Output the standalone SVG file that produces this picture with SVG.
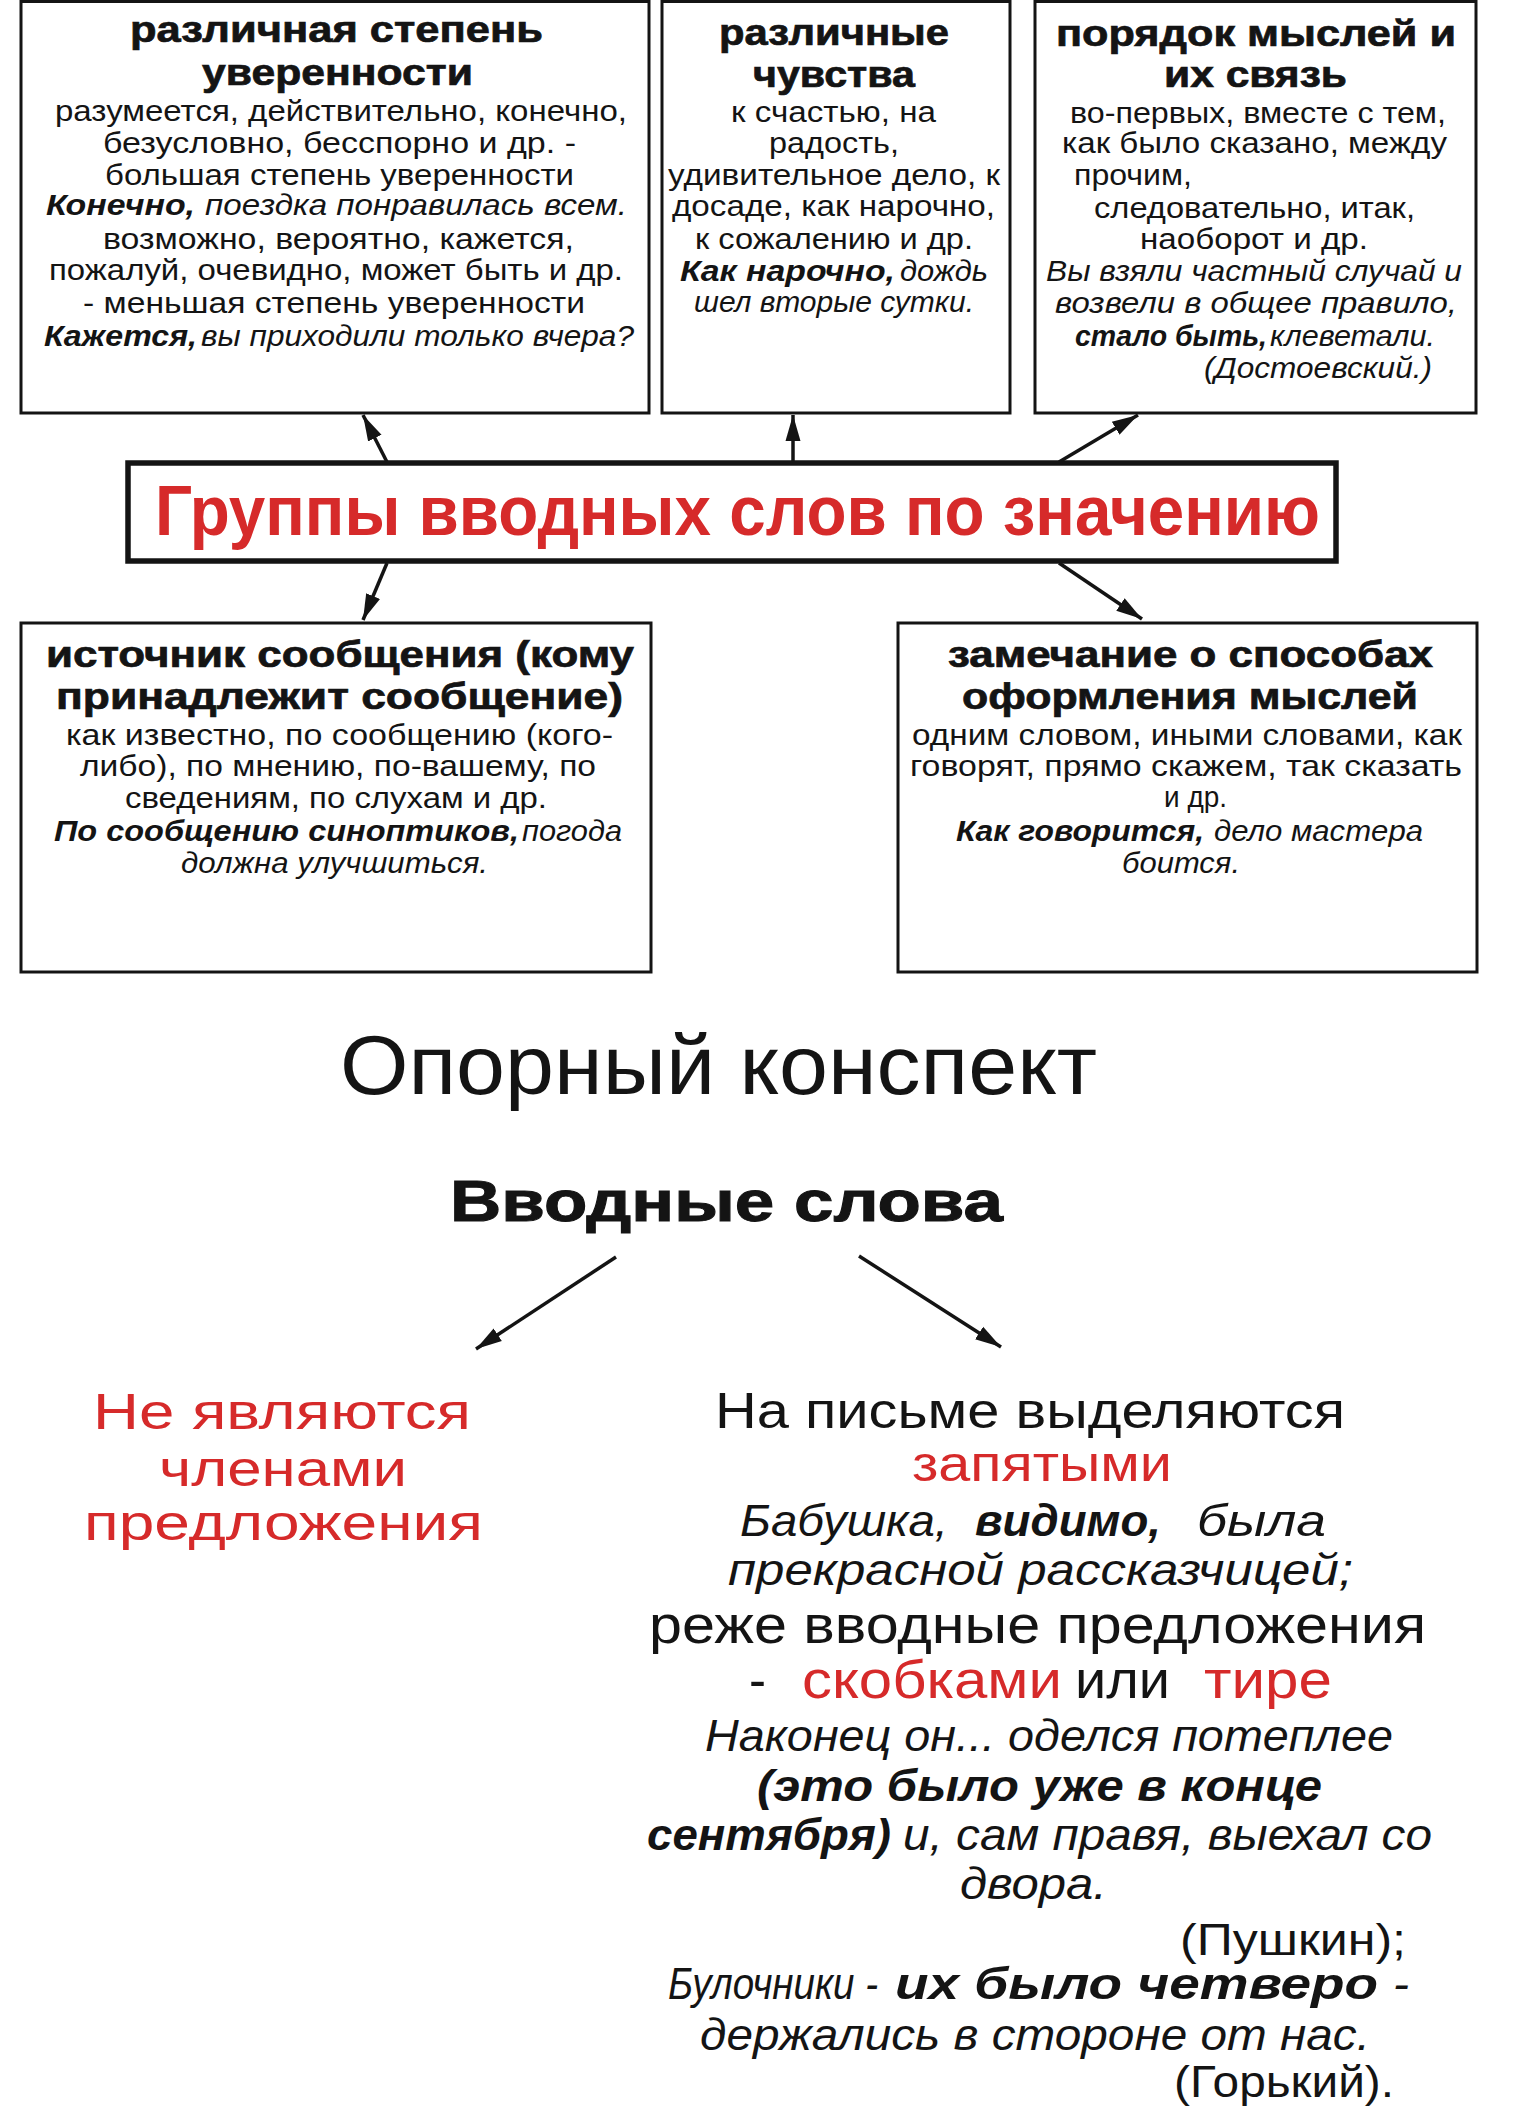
<svg xmlns="http://www.w3.org/2000/svg" width="1516" height="2114" viewBox="0 0 1516 2114">
<defs>
<style>
text{font-family:"Liberation Sans",Arial,sans-serif;fill:#141414}
.t{font-weight:bold;font-size:36px;stroke:#141414;stroke-width:0.7}
.s{font-size:30px}
.i{font-style:italic}
.bi{font-weight:bold;font-style:italic}
.box{fill:#fff;stroke:#141414;stroke-width:3}
.red{fill:#d62a2a}
.ln{stroke:#141414;stroke-width:3.5;fill:none}
.e{font-size:45px}
</style>
<marker id="ah" markerUnits="userSpaceOnUse" markerWidth="30" markerHeight="20" refX="26" refY="10" orient="auto">
<path d="M0,2.5 L26,10 L0,17.5 z" fill="#141414"/>
</marker>
</defs>
<rect width="1516" height="2114" fill="#fff"/>

<g id="connectors">
<line class="ln" x1="387" y1="462" x2="363" y2="415" marker-end="url(#ah)"/>
<line class="ln" x1="793" y1="462" x2="793" y2="415" marker-end="url(#ah)"/>
<line class="ln" x1="1059" y1="462" x2="1138" y2="415" marker-end="url(#ah)"/>
<line class="ln" x1="387" y1="563" x2="363" y2="620" marker-end="url(#ah)"/>
<line class="ln" x1="1059" y1="563" x2="1142" y2="619" marker-end="url(#ah)"/>
<line class="ln" x1="616" y1="1257" x2="476" y2="1349" marker-end="url(#ah)"/>
<line class="ln" x1="859" y1="1256" x2="1001" y2="1347" marker-end="url(#ah)"/>
</g>

<g id="box-uverennost">
<rect class="box" x="21" y="1.5" width="628" height="411.5"/>
<text class="t" x="130" y="42" textLength="413" lengthAdjust="spacingAndGlyphs">различная степень</text>
<text class="t" x="202" y="85" textLength="271" lengthAdjust="spacingAndGlyphs">уверенности</text>
<text class="s" x="55" y="121" textLength="572" lengthAdjust="spacingAndGlyphs">разумеется, действительно, конечно,</text>
<text class="s" x="103" y="153" textLength="473" lengthAdjust="spacingAndGlyphs">безусловно, бесспорно и др. -</text>
<text class="s" x="105" y="185" textLength="469" lengthAdjust="spacingAndGlyphs">большая степень уверенности</text>
<text class="s bi" x="46" y="215" textLength="149" lengthAdjust="spacingAndGlyphs">Конечно,</text>
<text class="s i" x="205" y="215" textLength="422" lengthAdjust="spacingAndGlyphs">поездка понравилась всем.</text>
<text class="s" x="103" y="249" textLength="471" lengthAdjust="spacingAndGlyphs">возможно, вероятно, кажется,</text>
<text class="s" x="49" y="280" textLength="574" lengthAdjust="spacingAndGlyphs">пожалуй, очевидно, может быть и др.</text>
<text class="s" x="83" y="313" textLength="502" lengthAdjust="spacingAndGlyphs">- меньшая степень уверенности</text>
<text class="s bi" x="44" y="346" textLength="153" lengthAdjust="spacingAndGlyphs">Кажется,</text>
<text class="s i" x="201" y="346" textLength="433" lengthAdjust="spacingAndGlyphs">вы приходили только вчера?</text>
</g>

<g id="box-chuvstva">
<rect class="box" x="662" y="1.5" width="348" height="411.5"/>
<text class="t" x="719" y="45" textLength="230" lengthAdjust="spacingAndGlyphs">различные</text>
<text class="t" x="753" y="87" textLength="162" lengthAdjust="spacingAndGlyphs">чувства</text>
<text class="s" x="731" y="122" textLength="205" lengthAdjust="spacingAndGlyphs">к счастью, на</text>
<text class="s" x="769" y="153" textLength="130" lengthAdjust="spacingAndGlyphs">радость,</text>
<text class="s" x="668" y="185" textLength="332" lengthAdjust="spacingAndGlyphs">удивительное дело, к</text>
<text class="s" x="672" y="216" textLength="323" lengthAdjust="spacingAndGlyphs">досаде, как нарочно,</text>
<text class="s" x="695" y="249" textLength="278" lengthAdjust="spacingAndGlyphs">к сожалению и др.</text>
<text class="s bi" x="680" y="281" textLength="215" lengthAdjust="spacingAndGlyphs">Как нарочно,</text>
<text class="s i" x="900" y="281" textLength="88" lengthAdjust="spacingAndGlyphs">дождь</text>
<text class="s i" x="694" y="312" textLength="280" lengthAdjust="spacingAndGlyphs">шел вторые сутки.</text>
</g>

<g id="box-poryadok">
<rect class="box" x="1035" y="1.5" width="441" height="411.5"/>
<text class="t" x="1056" y="46" textLength="400" lengthAdjust="spacingAndGlyphs">порядок мыслей и</text>
<text class="t" x="1164" y="87" textLength="183" lengthAdjust="spacingAndGlyphs">их связь</text>
<text class="s" x="1070" y="123" textLength="376" lengthAdjust="spacingAndGlyphs">во-первых, вместе с тем,</text>
<text class="s" x="1062" y="153" textLength="385" lengthAdjust="spacingAndGlyphs">как было сказано, между</text>
<text class="s" x="1074" y="185" textLength="118" lengthAdjust="spacingAndGlyphs">прочим,</text>
<text class="s" x="1094" y="218" textLength="321" lengthAdjust="spacingAndGlyphs">следовательно, итак,</text>
<text class="s" x="1140" y="249" textLength="228" lengthAdjust="spacingAndGlyphs">наоборот и др.</text>
<text class="s i" x="1046" y="281" textLength="416" lengthAdjust="spacingAndGlyphs">Вы взяли частный случай и</text>
<text class="s i" x="1055" y="313" textLength="402" lengthAdjust="spacingAndGlyphs">возвели в общее правило,</text>
<text class="s bi" x="1075" y="346" textLength="192" lengthAdjust="spacingAndGlyphs">стало быть,</text>
<text class="s i" x="1270" y="346" textLength="165" lengthAdjust="spacingAndGlyphs">клеветали.</text>
<text class="s i" x="1204" y="378" textLength="228" lengthAdjust="spacingAndGlyphs">(Достоевский.)</text>
</g>

<g id="box-center">
<rect x="128" y="463" width="1208" height="98" fill="#fff" stroke="#141414" stroke-width="5.5"/>
<text x="155" y="535" font-size="70" font-weight="bold" class="red" textLength="1165" lengthAdjust="spacingAndGlyphs">Группы вводных слов по значению</text>
</g>

<g id="box-istochnik">
<rect class="box" x="21" y="623" width="630" height="349"/>
<text class="t" x="46" y="667" textLength="588" lengthAdjust="spacingAndGlyphs">источник сообщения (кому</text>
<text class="t" x="56" y="709" textLength="567" lengthAdjust="spacingAndGlyphs">принадлежит сообщение)</text>
<text class="s" x="66" y="745" textLength="547" lengthAdjust="spacingAndGlyphs">как известно, по сообщению (кого-</text>
<text class="s" x="80" y="776" textLength="516" lengthAdjust="spacingAndGlyphs">либо), по мнению, по-вашему, по</text>
<text class="s" x="125" y="808" textLength="422" lengthAdjust="spacingAndGlyphs">сведениям, по слухам и др.</text>
<text class="s bi" x="54" y="841" textLength="465" lengthAdjust="spacingAndGlyphs">По сообщению синоптиков,</text>
<text class="s i" x="522" y="841" textLength="100" lengthAdjust="spacingAndGlyphs">погода</text>
<text class="s i" x="181" y="873" textLength="307" lengthAdjust="spacingAndGlyphs">должна улучшиться.</text>
</g>

<g id="box-zamechanie">
<rect class="box" x="898" y="623" width="579" height="349"/>
<text class="t" x="948" y="667" textLength="485" lengthAdjust="spacingAndGlyphs">замечание о способах</text>
<text class="t" x="962" y="709" textLength="456" lengthAdjust="spacingAndGlyphs">оформления мыслей</text>
<text class="s" x="912" y="745" textLength="550" lengthAdjust="spacingAndGlyphs">одним словом, иными словами, как</text>
<text class="s" x="910" y="776" textLength="552" lengthAdjust="spacingAndGlyphs">говорят, прямо скажем, так сказать</text>
<text class="s" x="1164" y="807" textLength="63" lengthAdjust="spacingAndGlyphs">и др.</text>
<text class="s bi" x="956" y="841" textLength="248" lengthAdjust="spacingAndGlyphs">Как говорится,</text>
<text class="s i" x="1214" y="841" textLength="209" lengthAdjust="spacingAndGlyphs">дело мастера</text>
<text class="s i" x="1122" y="873" textLength="118" lengthAdjust="spacingAndGlyphs">боится.</text>
</g>

<g id="title-konspekt">
<text x="340" y="1094" font-size="84" textLength="757" lengthAdjust="spacingAndGlyphs">Опорный конспект</text>
</g>

<g id="node-vvodnye">
<text x="450" y="1221" font-size="58" font-weight="bold" stroke="#141414" stroke-width="1" textLength="553" lengthAdjust="spacingAndGlyphs">Вводные слова</text>
</g>

<g id="node-ne-yavlyayutsya">
<text class="red" x="93" y="1429" font-size="50" textLength="378" lengthAdjust="spacingAndGlyphs">Не являются</text>
<text class="red" x="159" y="1486" font-size="50" textLength="248" lengthAdjust="spacingAndGlyphs">членами</text>
<text class="red" x="84" y="1540" font-size="50" textLength="399" lengthAdjust="spacingAndGlyphs">предложения</text>
</g>

<g id="node-vydelyayutsya">
<text x="715" y="1428" font-size="50" textLength="630" lengthAdjust="spacingAndGlyphs">На письме выделяются</text>
<text class="red" x="912" y="1481" font-size="50" textLength="260" lengthAdjust="spacingAndGlyphs">запятыми</text>
<text class="e i" x="740" y="1536" textLength="208" lengthAdjust="spacingAndGlyphs">Бабушка,</text>
<text class="e bi" x="975" y="1536" textLength="186" lengthAdjust="spacingAndGlyphs">видимо,</text>
<text class="e i" x="1197" y="1536" textLength="129" lengthAdjust="spacingAndGlyphs">была</text>
<text class="e i" x="728" y="1585" textLength="625" lengthAdjust="spacingAndGlyphs">прекрасной рассказчицей;</text>
<text x="649" y="1643" font-size="54" textLength="777" lengthAdjust="spacingAndGlyphs">реже вводные предложения</text>
<text x="749" y="1698" font-size="54" textLength="17" lengthAdjust="spacingAndGlyphs">-</text>
<text class="red" x="802" y="1698" font-size="54" textLength="260" lengthAdjust="spacingAndGlyphs">скобками</text>
<text x="1075" y="1698" font-size="54" textLength="95" lengthAdjust="spacingAndGlyphs">или</text>
<text class="red" x="1204" y="1698" font-size="54" textLength="128" lengthAdjust="spacingAndGlyphs">тире</text>
<text class="e i" x="705" y="1751" textLength="688" lengthAdjust="spacingAndGlyphs">Наконец он... оделся потеплее</text>
<text class="e bi" x="757" y="1801" textLength="565" lengthAdjust="spacingAndGlyphs">(это было уже в конце</text>
<text class="e bi" x="647" y="1850" textLength="244" lengthAdjust="spacingAndGlyphs">сентября)</text>
<text class="e i" x="903" y="1850" textLength="529" lengthAdjust="spacingAndGlyphs">и, сам правя, выехал со</text>
<text class="e i" x="960" y="1899" textLength="147" lengthAdjust="spacingAndGlyphs">двора.</text>
<text class="e" x="1180" y="1955" textLength="226" lengthAdjust="spacingAndGlyphs">(Пушкин);</text>
<text class="e i" x="668" y="1999" textLength="210" lengthAdjust="spacingAndGlyphs">Булочники -</text>
<text class="e bi" x="895" y="1999" textLength="483" lengthAdjust="spacingAndGlyphs">их было четверо</text>
<text class="e i" x="1393" y="1999" textLength="16" lengthAdjust="spacingAndGlyphs">-</text>
<text class="e i" x="700" y="2050" textLength="670" lengthAdjust="spacingAndGlyphs">держались в стороне от нас.</text>
<text class="e" x="1174" y="2097" textLength="220" lengthAdjust="spacingAndGlyphs">(Горький).</text>
</g>
</svg>
